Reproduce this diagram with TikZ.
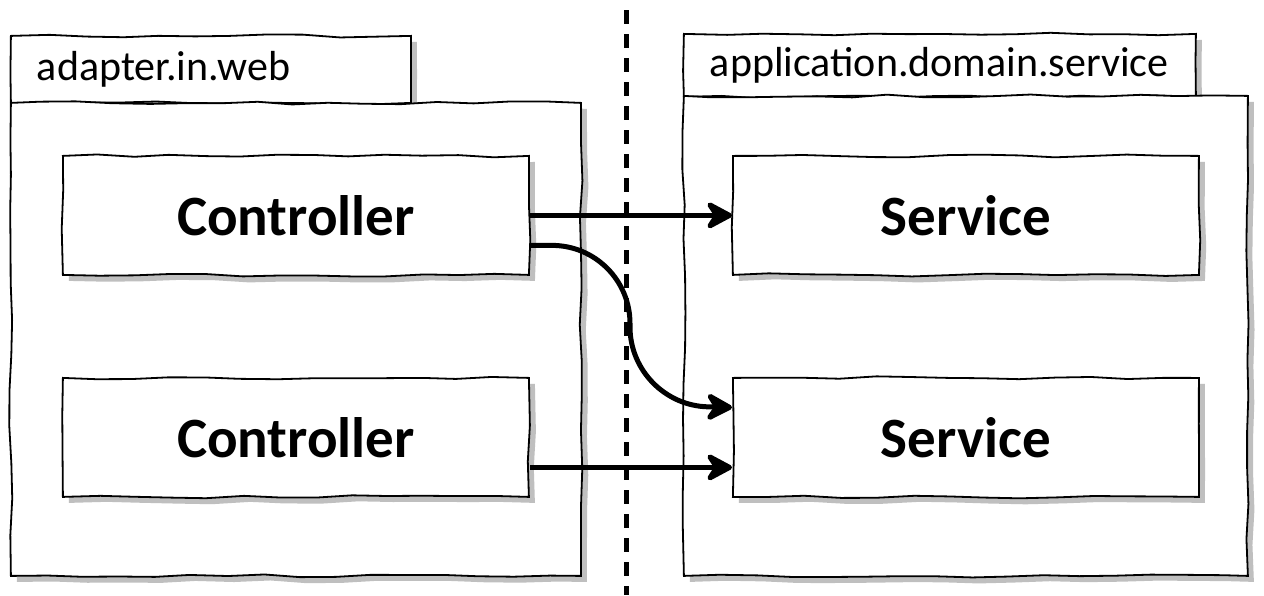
\documentclass[tikz,border=0pt]{standalone}
\usepackage{fontspec}
\setmainfont{Carlito}
\usepackage{tikz}
\usetikzlibrary{positioning,shadows,decorations.pathmorphing,arrows.meta}

\tikzset{
  sketchy/.style={decorate, decoration={random steps, segment length=18pt, amplitude=0.8pt}},
  pkgtab/.style={sketchy, draw, fill=white, line width=0.9pt, anchor=north west,
    inner xsep=13pt, align=left, font=\fontsize{21}{24}\selectfont,
    drop shadow={shadow xshift=3pt, shadow yshift=-3pt, fill=black!25, opacity=1}},
  pkgbody/.style={sketchy, draw, fill=white, line width=0.9pt, anchor=north west,
    drop shadow={shadow xshift=3pt, shadow yshift=-3pt, fill=black!25, opacity=1}},
  classbox/.style={sketchy, draw, fill=white, line width=0.9pt, anchor=north west,
    minimum width=233pt, minimum height=59.5pt, font=\bfseries\fontsize{28.5}{32}\selectfont,
    drop shadow={shadow xshift=3pt, shadow yshift=-3pt, fill=black!25, opacity=1}},
  flow/.style={line width=2.5pt, -{Stealth[length=16pt, width=17pt, inset=5.5pt, round]}}
}

\begin{document}
\pgfmathsetseed{4711}
\begin{tikzpicture}[x=0.5pt,y=-0.5pt]
	\useasboundingbox (0,0) rectangle (1264,595);

	  % left package
	  \node[pkgtab, minimum width=200pt, minimum height=33.5pt, text width=174pt] (webtab) at (10,35) {adapter.in.web};
	  \node[pkgbody, minimum width=285pt, minimum height=236.5pt] (webpkg) at (10,102) {};
	  \node[classbox] (ctrlA) at (62,155) {Controller};
	  \node[classbox] (ctrlB) at (62,377) {Controller};

	  % right package
	  \node[pkgtab, minimum width=256pt, minimum height=31.5pt, text width=230pt] (svctab) at (683,33) {application.domain.service};
	  \node[pkgbody, minimum width=282pt, minimum height=240pt] (svcpkg) at (683,95) {};
	  \node[classbox] (svcA) at (732,155) {Service};
	  \node[classbox] (svcB) at (732,377) {Service};

	  % boundary
	  \coordinate (top) at (626,10);
	  \coordinate (bottom) at (626,595);
	  \draw[line width=2.5pt, dash pattern=on 7pt off 5pt] (top) -- (bottom);

	  % calls
	  \coordinate (bend) at (630,405);
	  \draw[flow] (ctrlA.east) -- (svcA.west);
	  \draw[flow, rounded corners=39pt] ([yshift=-15pt]ctrlA.east) -| (bend) -- ([yshift=15pt]svcB.west);
	  \draw[flow] ([yshift=-15pt]ctrlB.east) -- ([yshift=-15pt]svcB.west);

\end{tikzpicture}
\end{document}
